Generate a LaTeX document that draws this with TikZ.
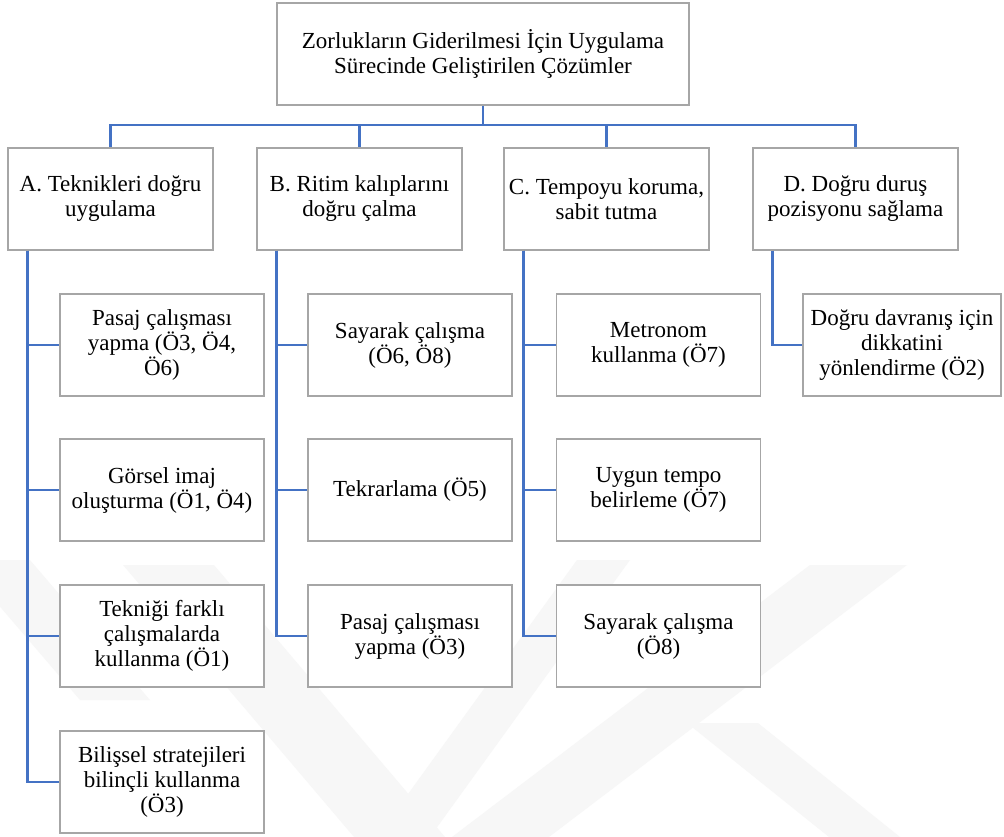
\documentclass[tikz,border=0pt]{standalone}
\usepackage{fontspec}
\setmainfont{Liberation Serif}
\begin{document}
\begin{tikzpicture}[x=1pt,y=-1pt,
  box/.style={draw=boxgray,line width=1.1pt,fill=white,rectangle,align=center,
    inner sep=2pt,font=\fontsize{23}{25}\selectfont},
  topbox/.style={box,minimum width=412pt,minimum height=102pt},
  catbox/.style={box,minimum width=205pt,minimum height=102pt},
  itembox/.style={box,minimum width=204pt,minimum height=102pt},
  link/.style={draw=linkblue,line width=2.3pt}]
\definecolor{boxgray}{HTML}{A6A6A6}
\definecolor{linkblue}{HTML}{4472C4}
\useasboundingbox (0,0) rectangle (1004,837);
\fill[white] (0,0) rectangle (1004,837);

% faint background emblem
\begin{scope}
  \clip (0,560) rectangle (1004,837);
  \fill[gray!6] (123,565) -- (214,565) -- (445,837) -- (354,837) -- cycle;
  \fill[gray!6] (810,565) -- (907,565) -- (549,837) -- (452,837) -- cycle;
  \fill[gray!6] (577,560) -- (630,560) -- (430,837) -- (377,837) -- cycle;
  \fill[gray!6] (687,723) -- (758,723) -- (900,837) -- (829,837) -- cycle;
  \fill[gray!6] (-40,560) -- (30,560) -- (150,700) -- (80,700) -- cycle;
\end{scope}

% title
\node[topbox] (top) at (483,54) {Zorlukların Giderilmesi İçin Uygulama\\Sürecinde Geliştirilen Çözümler};

% categories
\node[catbox] (A) at (110.5,199) {A. Teknikleri doğru\\uygulama};
\node[catbox] (B) at (359.5,199) {B. Ritim kalıplarını\\doğru çalma};
\node[catbox] (C) at (606.5,199) {C. Tempoyu koruma,\\sabit tutma};
\node[catbox] (D) at (855.5,199) {D. Doğru duruş\\pozisyonu sağlama};

% items of A
\node[itembox] (A1) at (162,345) {Pasaj çalışması\\yapma (Ö3, Ö4,\\Ö6)};
\node[itembox] (A2) at (162,490) {Görsel imaj\\oluşturma (Ö1, Ö4)};
\node[itembox] (A3) at (162,636) {Tekniği farklı\\çalışmalarda\\kullanma (Ö1)};
\node[itembox] (A4) at (162,782) {Bilişsel stratejileri\\bilinçli kullanma\\(Ö3)};

% items of B
\node[itembox] (B1) at (410,345) {Sayarak çalışma\\(Ö6, Ö8)};
\node[itembox] (B2) at (410,490) {Tekrarlama (Ö5)};
\node[itembox] (B3) at (410,636) {Pasaj çalışması\\yapma (Ö3)};

% items of C
\node[itembox] (C1) at (658.5,345) {Metronom\\kullanma (Ö7)};
\node[itembox] (C2) at (658.5,490) {Uygun tempo\\belirleme (Ö7)};
\node[itembox] (C3) at (658.5,636) {Sayarak çalışma\\(Ö8)};

% item of D
\node[itembox,minimum width=198pt] (D1) at (902,345) {Doğru davranış için\\dikkatini\\yönlendirme (Ö2)};

% title to categories
\coordinate (bus) at (483,125);
\draw[link] (top.south) -- (bus);
\foreach \c in {A,B,C,D} \draw[link] (bus) -| (\c.north);

% categories to items
\foreach \c/\last in {A/4,B/3,C/3,D/1}{
  \foreach \i in {1,...,\last}
    \draw[link] ([xshift=20pt]\c.south west) |- (\c\i.west);
}
\end{tikzpicture}
\end{document}
